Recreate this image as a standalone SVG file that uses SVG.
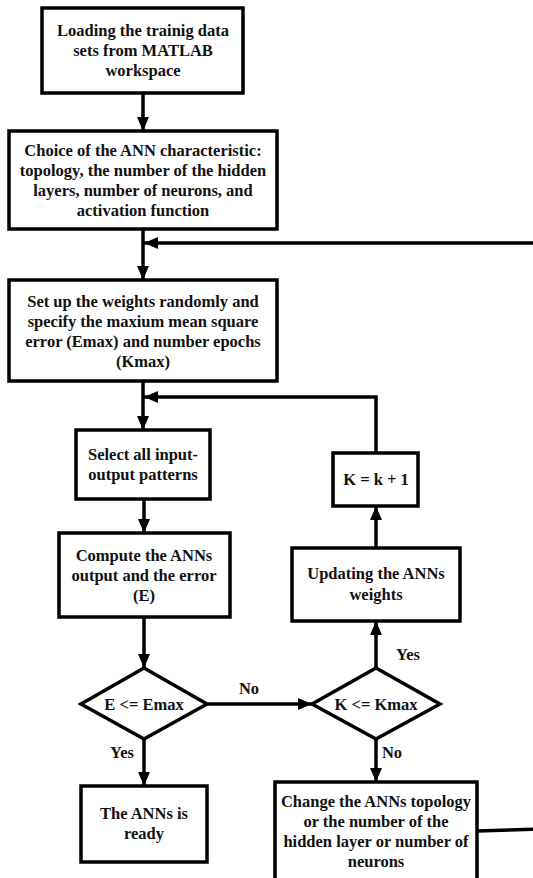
<svg xmlns="http://www.w3.org/2000/svg" width="533" height="878" viewBox="0 0 533 878">
<defs>
<marker id="ah" markerWidth="14" markerHeight="12" refX="14" refY="6" orient="auto" markerUnits="userSpaceOnUse">
<path d="M0,0 L14,6 L0,12 Z" fill="#000"/>
</marker>
<style>
.box{fill:#fff;stroke:#000;stroke-width:3.5}
.ln{fill:none;stroke:#000;stroke-width:3.5}
text{font-family:"Liberation Serif","Times New Roman",serif;font-weight:bold;font-size:16.5px;fill:#111;text-anchor:middle;dominant-baseline:central}
</style>
</defs>
<rect width="533" height="878" fill="#fff"/>
<g id="connectors">
<line class="ln" x1="143" y1="93" x2="143" y2="131" marker-end="url(#ah)"/>
<line class="ln" x1="143" y1="229" x2="143" y2="280" marker-end="url(#ah)"/>
<line class="ln" x1="143" y1="381" x2="143" y2="430" marker-end="url(#ah)"/>
<line class="ln" x1="144" y1="499" x2="144" y2="533" marker-end="url(#ah)"/>
<line class="ln" x1="144" y1="617" x2="144" y2="668" marker-end="url(#ah)"/>
<line class="ln" x1="144" y1="739" x2="144" y2="786" marker-end="url(#ah)"/>
<line class="ln" x1="207" y1="704" x2="312" y2="704" marker-end="url(#ah)"/>
<line class="ln" x1="376" y1="668" x2="376" y2="621" marker-end="url(#ah)"/>
<line class="ln" x1="376" y1="548" x2="376" y2="506" marker-end="url(#ah)"/>
<line class="ln" x1="376" y1="739" x2="376" y2="782" marker-end="url(#ah)"/>
<polyline class="ln" points="376,453 376,397 144,397" marker-end="url(#ah)"/>
<polyline class="ln" points="477,831 545,829 545,243 144,243" marker-end="url(#ah)"/>
</g>
<g id="n1"><rect class="box" x="42" y="8" width="201" height="85"/>
<text x="143" y="30">Loading the trainig data</text><text x="143" y="50">sets from MATLAB</text><text x="143" y="70">workspace</text></g>
<g id="n2"><rect class="box" x="9" y="131" width="268" height="98"/>
<text x="143" y="150">Choice of the ANN characteristic:</text><text x="143" y="170">topology, the number of the hidden</text><text x="143" y="190">layers, number of neurons, and</text><text x="143" y="210">activation function</text></g>
<g id="n3"><rect class="box" x="9" y="280" width="268" height="101"/>
<text x="143" y="301">Set up the weights randomly and</text><text x="143" y="321">specify the maxium mean square</text><text x="143" y="341">error (Emax) and number epochs</text><text x="143" y="361">(Kmax)</text></g>
<g id="n4"><rect class="box" x="76" y="430" width="134" height="69"/>
<text x="143" y="454">Select all input-</text><text x="143" y="474">output patterns</text></g>
<g id="n5"><rect class="box" x="59" y="533" width="171" height="84"/>
<text x="144" y="555">Compute the ANNs</text><text x="144" y="575">output and the error</text><text x="144" y="595">(E)</text></g>
<g id="d1"><polygon class="box" points="81,704 144,668 207,704 144,739"/>
<text x="144" y="704">E &lt;= Emax</text></g>
<g id="n6"><rect class="box" x="81" y="786" width="126" height="76"/>
<text x="144" y="813">The ANNs is</text><text x="144" y="833">ready</text></g>
<g id="d2"><polygon class="box" points="312,704 376,668 440,704 376,739"/>
<text x="376" y="704">K &lt;= Kmax</text></g>
<g id="n7"><rect class="box" x="292" y="548" width="168" height="73"/>
<text x="376" y="573">Updating the ANNs</text><text x="376" y="594">weights</text></g>
<g id="n8"><rect class="box" x="333" y="453" width="85" height="53"/>
<text x="376" y="479">K = k + 1</text></g>
<g id="n9"><rect class="box" x="275" y="782" width="202" height="100"/>
<text x="376" y="801">Change the ANNs topology</text><text x="376" y="821">or the number of the</text><text x="376" y="841">hidden layer or number of</text><text x="376" y="861">neurons</text></g>
<g id="labels">
<text x="249" y="688">No</text>
<text x="408" y="654">Yes</text>
<text x="122" y="752">Yes</text>
<text x="392" y="752">No</text>
</g>
</svg>
